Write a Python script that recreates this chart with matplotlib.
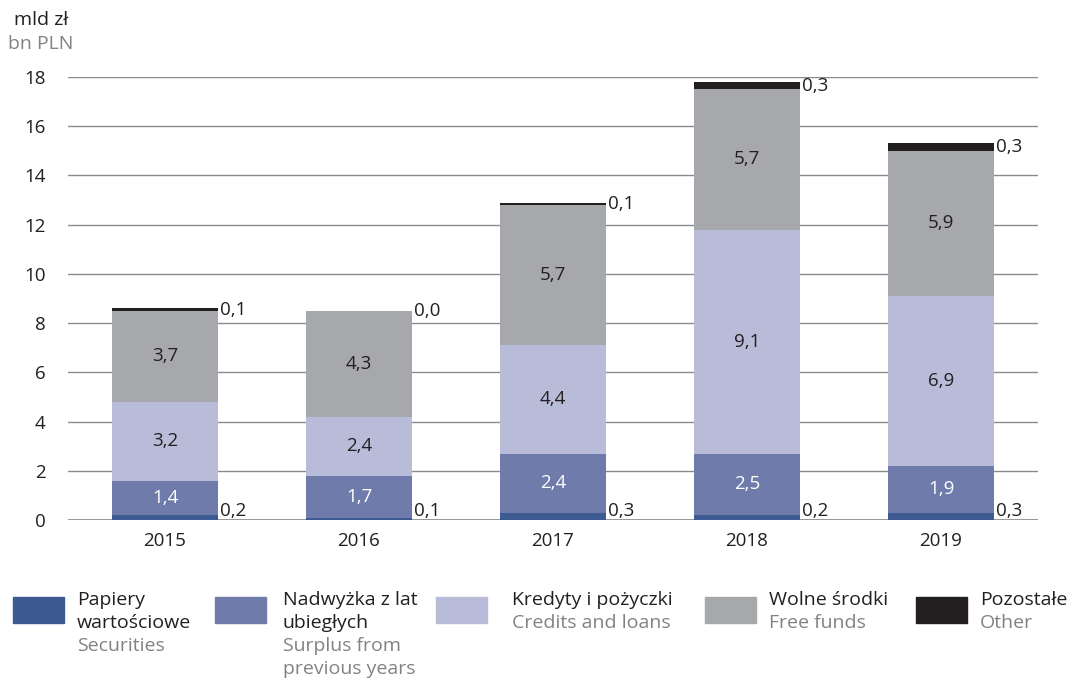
import matplotlib.pyplot as plt
from matplotlib.patches import Rectangle

plt.rcParams['font.family'] = ['Open Sans', 'DejaVu Sans']

years = ['2015', '2016', '2017', '2018', '2019']
securities = [0.2, 0.1, 0.3, 0.2, 0.3]
surplus = [1.4, 1.7, 2.4, 2.5, 1.9]
credits = [3.2, 2.4, 4.4, 9.1, 6.9]
free_funds = [3.7, 4.3, 5.7, 5.7, 5.9]
other = [0.1, 0.0, 0.1, 0.3, 0.3]

series_pl = [['Papiery', 'wartościowe'], ['Nadwyżka z lat', 'ubiegłych'], ['Kredyty i pożyczki'],
             ['Wolne środki'], ['Pozostałe']]
series_en = [['Securities'], ['Surplus from', 'previous years'], ['Credits and loans'],
             ['Free funds'], ['Other']]
colors = ['#3e5a93', '#6f7baa', '#b9bcd9', '#a7a8ab', '#231f20']

DARK = '#231f20'
GREY = '#808285'
FS = 13.5


def fmt(v):
    return f'{v:.1f}'.replace('.', ',')


fig = plt.figure(figsize=(10.67, 6.8), dpi=100)
ax = fig.add_axes([68 / 1067, 1 - 520 / 680, 970 / 1067, 443 / 680])

x = list(range(len(years)))
width = 0.545
data = [securities, surplus, credits, free_funds, other]
bottoms = [0.0] * len(years)
for vals, col in zip(data, colors):
    ax.bar(x, vals, width, bottom=bottoms, color=col, zorder=3)
    bottoms = [b + v for b, v in zip(bottoms, vals)]

for i in x:
    right = i + width / 2 + 0.012
    ax.text(right, 0.0, fmt(securities[i]), ha='left', va='bottom', fontsize=FS, color=DARK)
    b = securities[i]
    ax.text(i, b + surplus[i] / 2, fmt(surplus[i]), ha='center', va='center', fontsize=FS, color='white', zorder=4)
    b += surplus[i]
    ax.text(i, b + credits[i] / 2, fmt(credits[i]), ha='center', va='center', fontsize=FS, color=DARK, zorder=4)
    b += credits[i]
    ax.text(i, b + free_funds[i] / 2, fmt(free_funds[i]), ha='center', va='center', fontsize=FS, color=DARK, zorder=4)
    b += free_funds[i]
    ax.text(right, b + other[i] / 2, fmt(other[i]), ha='left', va='center', fontsize=FS, color=DARK)

ax.set_xlim(-0.5, len(years) - 0.5)
ax.set_ylim(0, 18)
ax.set_yticks(range(0, 19, 2))
ax.set_xticks(x)
ax.set_xticklabels(years)
ax.grid(axis='y', color='#8a8a8a', linewidth=1.0, zorder=0)
ax.tick_params(length=0, labelsize=FS, colors=DARK)
ax.tick_params(axis='y', pad=16)
ax.tick_params(axis='x', pad=9)
for s in ax.spines.values():
    s.set_visible(False)
ax.axhline(0, color='#8a8a8a', linewidth=1.2, zorder=2)

fig.text(14 / 1067, 1 - 20 / 680, 'mld zł', fontsize=14, color=DARK, va='center')
fig.text(8 / 1067, 1 - 44 / 680, 'bn PLN', fontsize=14, color=GREY, va='center')

# legend drawn in pixel space
lg = fig.add_axes([0, 0, 1, 1], zorder=-1)
lg.set_xlim(0, 1067)
lg.set_ylim(680, 0)
lg.axis('off')
box_x = [13, 215, 436, 705, 916]
text_x = [77, 283, 512, 769, 980]
for bx, tx, col, pl, en in zip(box_x, text_x, colors, series_pl, series_en):
    lg.add_patch(Rectangle((bx, 597), 51, 26, color=col))
    y = 600
    for line in pl:
        lg.text(tx, y, line, fontsize=14, color=DARK, va='center')
        y += 23
    for line in en:
        lg.text(tx, y, line, fontsize=14, color=GREY, va='center')
        y += 23

fig.savefig('out.png', dpi=100)
